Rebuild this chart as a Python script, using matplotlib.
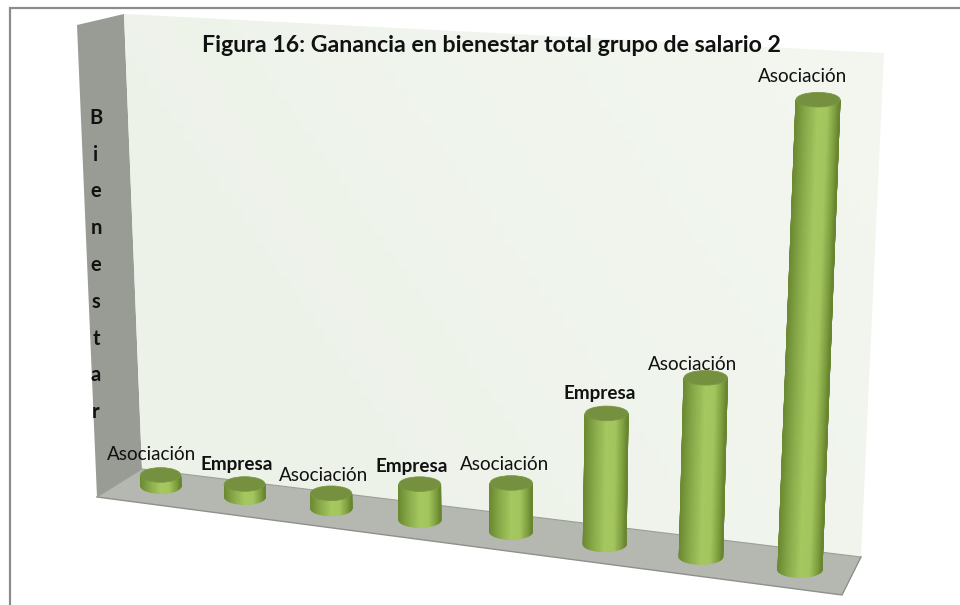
import numpy as np
import matplotlib
matplotlib.use("Agg")
import matplotlib.pyplot as plt
from matplotlib.colors import LinearSegmentedColormap
from matplotlib.patches import Ellipse, Polygon

# ---- data ----
categories = ["Asociación", "Empresa", "Asociación", "Empresa",
              "Asociación", "Empresa", "Asociación", "Asociación"]
values = [2.4, 2.8, 3.2, 7.5, 10.1, 26.6, 35.9, 92.9]
title = "Figura 16: Ganancia en bienestar total grupo de salario 2"
y_title = "Bienestar"

# ---- style: label offsets from the top of each cylinder, in pixels ----
label_dx = [-9, -8, -8, -8, -7, -7, -13, -15]
label_dy = [20, 19, 18, 18, 18, 20, 13, 23]
FONT = "Lato"

# ---- projection of the 3-D scene onto the picture ----
PERSP = -0.01304
X0, XSTEP = 161.0, 80.85
Y0, YSTEP = 486.0, 4.56
UNIT = 4.6
VP = (478.0, 8955.0)
RADIUS, ELL = 20.0, 7.3


def scene(index, value):
    d = 1 + PERSP * index
    xb = (X0 + XSTEP * index) / d
    yb = (Y0 + YSTEP * index) / d
    h = value * UNIT / d
    lean = (xb - VP[0]) / (VP[1] - yb) * h
    return xb, yb, xb + lean, yb - h, 1 / d


fig = plt.figure(figsize=(9.6, 6.05), dpi=100, facecolor="white")
ax = fig.add_axes([0, 0, 1, 1])

# walls and floor
back = [(124, 14), (884, 53), (861, 557), (142, 469)]
left = [(77, 25), (124, 14), (142, 469), (97, 497)]
floor = [(97, 497), (142, 469), (861, 557), (842, 595)]
ax.add_patch(Polygon(left, closed=True, fc="#999b95", ec="none", zorder=1))
wall_cmap = LinearSegmentedColormap.from_list("wall", ["#edf2e9", "#f2f6ef"])
gx, gy = np.meshgrid(np.linspace(0, 1, 64), np.linspace(0, 1, 64))
img = ax.imshow(np.clip(gx - gy * 0.5 + 0.2, 0, 1), extent=(124, 884, 557, 14),
                cmap=wall_cmap, aspect="auto", zorder=1)
img.set_clip_path(Polygon(back, closed=True, transform=ax.transData))
ax.add_patch(Polygon(floor, closed=True, fc="#b5b7b1", ec="none", zorder=1.5))
ax.plot([97, 842, 861], [497, 595, 557], color="#8f908c", lw=1.0, zorder=2)
ax.plot([97, 142, 861], [497, 469, 557], color="#9c9e98", lw=0.8, zorder=2)

# cylinders
side_cmap = LinearSegmentedColormap.from_list(
    "side", [(0, "#6b8a32"), (0.22, "#88a949"), (0.5, "#a5c860"),
             (0.72, "#a3c55e"), (0.9, "#7f9f40"), (1, "#688630")])
N = 64
for i, v in enumerate(values):
    xb, yb, xt, yt, s = scene(i, v)
    r, e = RADIUS * s, ELL
    th = np.linspace(np.pi, 0, N + 1)
    X = np.vstack([xb + r * np.cos(th), xt + r * np.cos(th)])
    Y = np.vstack([yb + e * np.sin(th), yt + e * np.sin(th)])
    C = np.vstack([(np.cos(th) + 1) / 2] * 2)
    ax.pcolormesh(X, Y, C, shading="gouraud", cmap=side_cmap, vmin=0, vmax=1,
                  zorder=3 + i * 0.01)
    ax.add_patch(Ellipse((xt, yt), 2 * r, 2 * e, fc="#75913f", ec="#7b9744",
                         lw=0.6, zorder=3.005 + i * 0.01))
    ax.text(xt + label_dx[i], yt - label_dy[i], categories[i],
            ha="center", va="center", fontsize=13.6,
            family=FONT, color="#111111",
            fontweight="bold" if categories[i] == "Empresa" else "normal",
            zorder=5)

# frame
ax.plot([10, 10, 960], [605, 8, 8], color="#8c8c8c", lw=1.6, zorder=6,
        solid_joinstyle="miter")

# texts
ax.text(491, 45, title, ha="center", va="center", fontsize=16.7,
        family=FONT, fontweight="bold", color="#111111", zorder=5)
ax.text(96, 265, "\n".join(y_title), ha="center", va="center", fontsize=14.5,
        family=FONT, fontweight="bold", color="#111111",
        linespacing=2.05, zorder=5)

ax.set_xlim(0, 960)
ax.set_ylim(605, 0)
ax.axis("off")
fig.savefig("out.png", dpi=100, facecolor="white")
